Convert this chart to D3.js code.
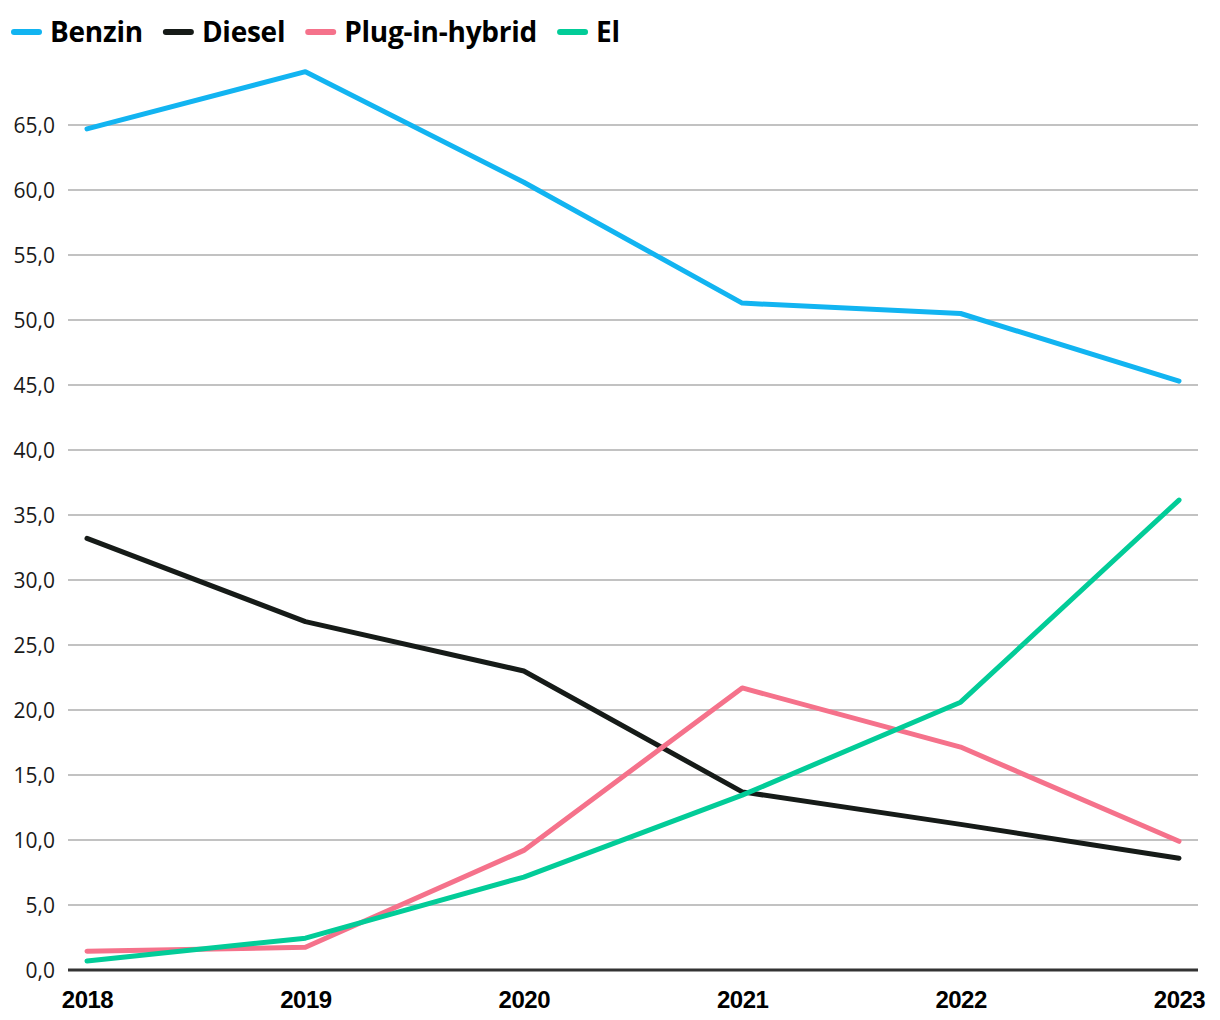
<!DOCTYPE html>
<html><head><meta charset="utf-8">
<script src="https://cdn.jsdelivr.net/npm/d3@7"></script>
<style>body{margin:0;background:#fff}svg{display:block}</style>
</head><body>
<svg id="c" width="1220" height="1020"></svg>
<script>
const years = ["2018","2019","2020","2021","2022","2023"];
const seriesNames = ["Benzin","Diesel","Plug-in-hybrid","El"];
const benzin = [64.7, 69.1, 60.6, 51.3, 50.5, 45.3];
const diesel = [33.2, 26.8, 23.0, 13.7, 11.2, 8.6];
const plugin = [1.45, 1.75, 9.2, 21.7, 17.15, 9.9];
const el = [0.7, 2.45, 7.15, 13.45, 20.6, 36.15];
const yTicks = [0,5,10,15,20,25,30,35,40,45,50,55,60,65];
const colors = ["#12b4f1","#161b18","#f5728b","#02cc98"];
const values = [benzin, diesel, plugin, el];

const svg = d3.select("#c");
const x = d3.scalePoint().domain(years).range([87,1179]);
const y = d3.scaleLinear().domain([0,65]).range([970,125]);

const grid = svg.append("g");
grid.selectAll("line").data(yTicks.filter(d=>d>0)).join("line")
  .attr("x1",68).attr("x2",1198)
  .attr("y1",d=>y(d)).attr("y2",d=>y(d))
  .attr("stroke","#c2c2c2").attr("stroke-width",2);

const yAxis = d3.axisLeft(y).tickValues(yTicks).tickSize(0).tickPadding(0)
  .tickFormat(d=>d3.format(".1f")(d).replace(".",","));
const ya = svg.append("g").attr("transform","translate(55,0)").call(yAxis);
ya.select(".domain").remove();
ya.selectAll("text").attr("font-family","'Open Sans'").attr("font-size",21).attr("fill","#1a1a1a").attr("dy","0.35em");

svg.append("line").attr("x1",68).attr("x2",1198).attr("y1",y(0)).attr("y2",y(0))
  .attr("stroke","#333").attr("stroke-width",3);

const xAxis = d3.axisBottom(x).tickSize(0).tickPadding(0);
const xa = svg.append("g").attr("transform","translate(0,1008)").call(xAxis);
xa.select(".domain").remove();
xa.selectAll("text").attr("font-family","'Liberation Sans', Arial").attr("font-weight","bold")
  .attr("font-size",24).attr("fill","#000").attr("dy",0).attr("letter-spacing","-0.5");

const line = d3.line().x((d,i)=>x(years[i])).y(d=>y(d));
svg.append("g").selectAll("path").data(values).join("path")
  .attr("d",d=>line(d)).attr("fill","none")
  .attr("stroke",(d,i)=>colors[i]).attr("stroke-width",5)
  .attr("stroke-linecap","round").attr("stroke-linejoin","round");

// legend
const lg = svg.append("g");
let lx = 11;
seriesNames.forEach((n,i)=>{
  lg.append("line").attr("x1",lx+3).attr("x2",lx+28).attr("y1",32).attr("y2",32)
    .attr("stroke",colors[i]).attr("stroke-width",6).attr("stroke-linecap","round");
  const t = lg.append("text").attr("x",lx+39).attr("y",32).attr("dy","0.35em")
    .attr("font-family","'Open Sans'").attr("font-weight","bold").attr("font-size",28)
    .attr("letter-spacing","-0.25").attr("fill","#000").text(n);
  lx += 39 + t.node().getComputedTextLength() + 20;
});
</script>
</body></html>
